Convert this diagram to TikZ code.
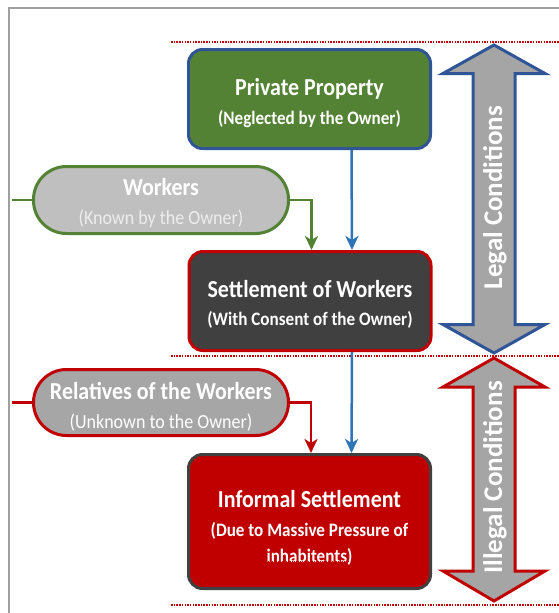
\documentclass[tikz,border=0pt]{standalone}
\usepackage{fontspec}
\setmainfont{Carlito}
\newfontfamily\cf[FakeStretch=0.9]{Carlito}
\usetikzlibrary{arrows.meta,calc}
\definecolor{pgreen}{HTML}{548235}
\definecolor{pblue}{HTML}{2F5597}
\definecolor{lblue}{HTML}{2E75B6}
\definecolor{pred}{HTML}{C00000}
\definecolor{pdark}{HTML}{404040}
\definecolor{pgray}{HTML}{BFBFBF}
\definecolor{pgray2}{HTML}{A6A6A6}
\definecolor{agray}{HTML}{A5A5A5}
\definecolor{framegray}{HTML}{A0A0A0}
\tikzset{
  box/.style={rounded corners=14pt, line width=3pt, minimum width=242pt, align=center, text=white, inner sep=0pt},
  pill/.style={rounded corners=33pt, line width=3pt, minimum width=255pt, align=center, text=white, inner sep=0pt},
  conn/.style={line width=2.5pt, -{Stealth[length=14pt,width=13pt,inset=4pt]}},
  sep/.style={pred, line width=1.5pt, dash pattern=on 1.5pt off 1.2pt},
  bigarrow/.style={fill=agray, line width=3pt, line join=miter},
  arrowtext/.style={rotate=90, text=white, font=\fontsize{27}{30}\selectfont\bfseries}
}
\newcommand{\ttlf}{\cf\fontsize{24.4}{27}\selectfont\bfseries}
\newcommand{\subb}{\cf\fontsize{19}{26}\selectfont\bfseries}
\newcommand{\subr}{\cf\fontsize{20}{26}\selectfont}
\newcommand{\lift}[1]{\rule{0pt}{#1pt}}
\begin{document}
\begin{tikzpicture}[x=1pt,y=-1pt]
\useasboundingbox (0,0) rectangle (559,613);
% frame
\draw[framegray, line width=2pt] (8.5,613) -- (8.5,8) -- (559,8);
% separators
\draw[sep] (171,42) -- (559,42);
\draw[sep] (171,356) -- (559,356);
\draw[sep] (171,605) -- (559,605);
% boxes
\node[box, fill=pgreen, draw=pblue, minimum height=99pt, font=\fontsize{19}{27}\selectfont] (pp) at (309.5,99)
  {\ttlf\lift{25.5}Private Property\\[2.5pt]\subb (Neglected by the Owner)};
\node[box, fill=pdark, draw=pred, minimum height=99pt, font=\fontsize{19}{26}\selectfont] (st) at (310,301)
  {\ttlf\lift{23.5}Settlement of Workers\\[2.5pt]\subb (With Consent of the Owner)};
\node[box, fill=pred, draw=pdark, minimum height=134pt, font=\fontsize{19}{26}\selectfont] (inf) at (309.5,521.5)
  {\ttlf\lift{29.5}Informal Settlement\\[2.5pt]\subb (Due to Massive Pressure of\\\subb inhabitents)};
\draw[pred, line width=1pt, dash pattern=on 1pt off 1pt] ([shift={(-42,40)}]inf.center) -- ([shift={(40,40)}]inf.center);
\node[pill, fill=pgray, draw=pgreen, minimum height=67pt, font=\fontsize{19}{29}\selectfont] (wk) at (161,200)
  {\ttlf\lift{24}Workers\\\subr\color{white!93!black}(Known by the Owner)};
\node[pill, fill=pgray2, draw=pred, minimum height=66pt, font=\fontsize{19}{29}\selectfont] (rl) at (161,402.5)
  {\ttlf\lift{25}Relatives of the Workers\\\subr (Unknown to the Owner)};
% incoming free ends
\coordinate (wkin) at (12,200);
\coordinate (rlin) at (12,402.5);
\draw[pgreen, line width=2.5pt] (wkin) -- (wk.west);
\draw[pred, line width=2.5pt] (rlin) -- (rl.west);
% connectors
\draw[conn, pgreen] (wk.east) -| ([xshift=1.5pt]st.north);
\draw[conn, lblue] ([xshift=42pt]pp.south) -- ([xshift=42pt]st.north);
\draw[conn, pred] (rl.east) -| ([xshift=1.5pt]inf.north);
\draw[conn, lblue] ([xshift=42pt]st.south) -- ([xshift=42pt]inf.north);
% big arrows
\draw[bigarrow, draw=pblue] (494,45) -- (545,73.5) -- (515,73.5) -- (515,324.5) -- (545,324.5) -- (494,353)
  -- (443,324.5) -- (473,324.5) -- (473,73.5) -- (443,73.5) -- cycle;
\draw[bigarrow, draw=pred] (494,358) -- (545,387) -- (515,387) -- (515,571) -- (545,571) -- (494,601)
  -- (443,571) -- (473,571) -- (473,387) -- (443,387) -- cycle;
\node[arrowtext] (legal) at (495,197.5) {Legal Conditions};
\node[arrowtext] (illegal) at (495,477.5) {Illegal Conditions};
\end{tikzpicture}
\end{document}
